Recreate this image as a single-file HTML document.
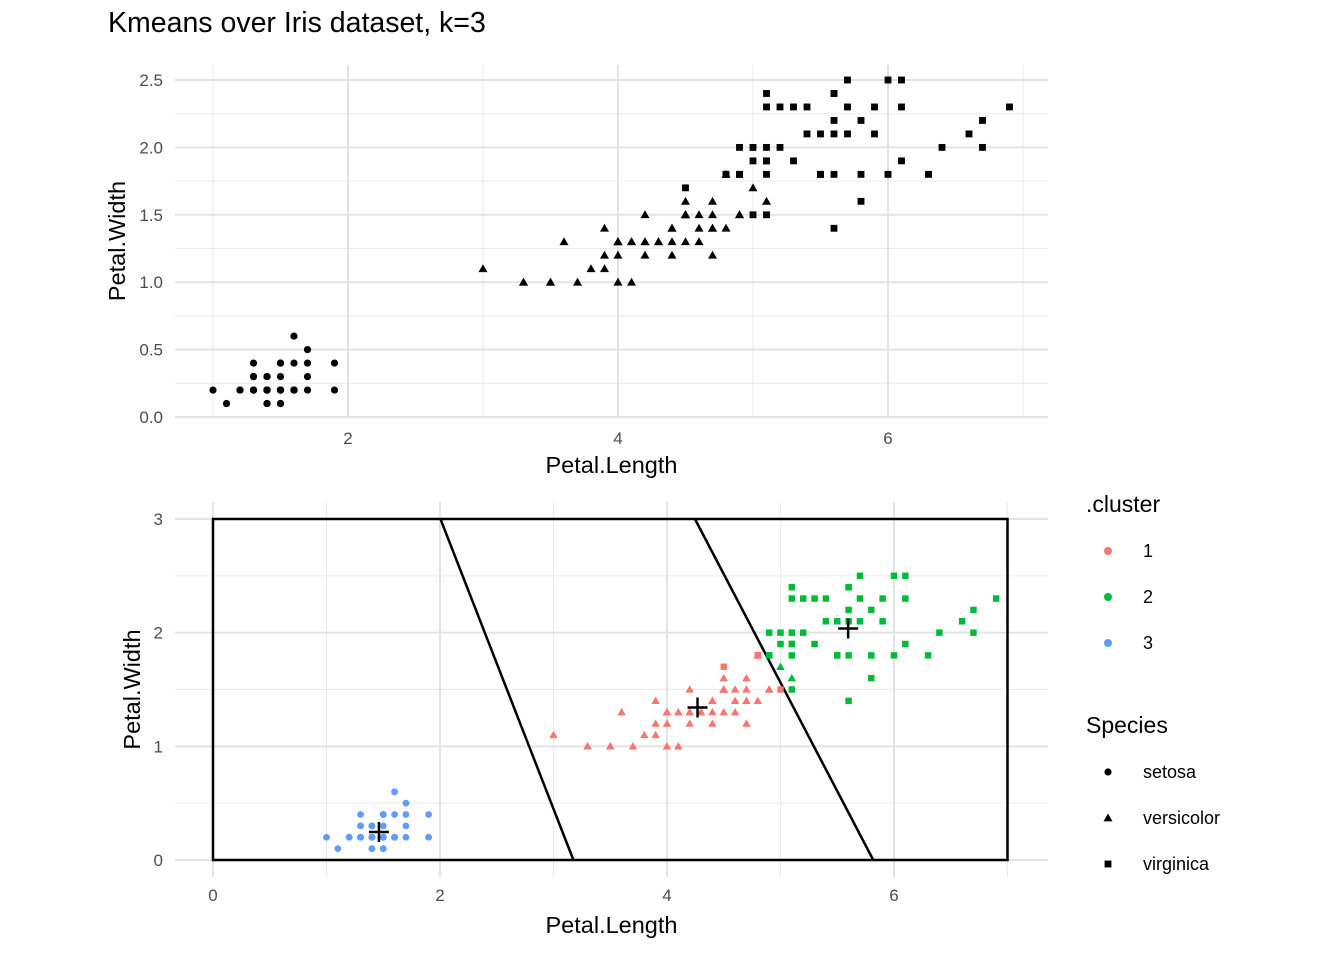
<!DOCTYPE html>
<html><head><meta charset="utf-8">
<style>
body{margin:0;background:#fff;}
svg text{font-family:"Liberation Sans",Arial,sans-serif;}
</style></head>
<body>
<svg id="chart" width="1344" height="960" viewBox="0 0 1344 960" xmlns="http://www.w3.org/2000/svg">
<rect width="1344" height="960" fill="#fff"/>
<text x="108" y="32" font-size="28.5" fill="#000">Kmeans over Iris dataset, k=3</text>
<g id="topPanel"></g>
<g id="bottomPanel"></g>
<g id="legend"></g>
</svg>
<script>
const petalLength=[1.4,1.4,1.3,1.5,1.4,1.7,1.4,1.5,1.4,1.5,1.5,1.6,1.4,1.1,1.2,1.5,1.3,1.4,1.7,1.5,1.7,1.5,1.0,1.7,1.9,1.6,1.6,1.5,1.4,1.6,1.6,1.5,1.5,1.4,1.5,1.2,1.3,1.4,1.3,1.5,1.3,1.3,1.3,1.6,1.9,1.4,1.6,1.4,1.5,1.4,
4.7,4.5,4.9,4.0,4.6,4.5,4.7,3.3,4.6,3.9,3.5,4.2,4.0,4.7,3.6,4.4,4.5,4.1,4.5,3.9,4.8,4.0,4.9,4.7,4.3,4.4,4.8,5.0,4.5,3.5,3.8,3.7,3.9,5.1,4.5,4.5,4.7,4.4,4.1,4.0,4.4,4.6,4.0,3.3,4.2,4.2,4.2,4.3,3.0,4.1,
6.0,5.1,5.9,5.6,5.8,6.6,4.5,6.3,5.8,6.1,5.1,5.3,5.5,5.0,5.1,5.3,5.5,6.7,6.9,5.0,5.7,4.9,6.7,4.9,5.7,6.0,4.8,4.9,5.6,5.8,6.1,6.4,5.6,5.1,5.6,6.1,5.6,5.5,4.8,5.4,5.6,5.1,5.1,5.9,5.7,5.2,5.0,5.2,5.4,5.1];
const petalWidth=[0.2,0.2,0.2,0.2,0.2,0.4,0.3,0.2,0.2,0.1,0.2,0.2,0.1,0.1,0.2,0.4,0.4,0.3,0.3,0.3,0.2,0.4,0.2,0.5,0.2,0.2,0.4,0.2,0.2,0.2,0.2,0.4,0.1,0.2,0.2,0.2,0.2,0.1,0.2,0.2,0.3,0.3,0.2,0.6,0.4,0.3,0.2,0.2,0.2,0.2,
1.4,1.5,1.5,1.3,1.5,1.3,1.6,1.0,1.3,1.4,1.0,1.5,1.0,1.4,1.3,1.4,1.5,1.0,1.5,1.1,1.8,1.3,1.5,1.2,1.3,1.4,1.4,1.7,1.5,1.0,1.1,1.0,1.2,1.6,1.5,1.6,1.5,1.3,1.3,1.3,1.2,1.4,1.2,1.0,1.3,1.2,1.3,1.3,1.1,1.3,
2.5,1.9,2.1,1.8,2.2,2.1,1.7,1.8,1.8,2.5,2.0,1.9,2.1,2.0,2.4,2.3,1.8,2.2,2.3,1.5,2.3,2.0,2.0,1.8,2.1,1.8,1.8,1.8,2.1,1.6,1.9,2.0,2.2,1.5,1.4,2.3,2.4,1.8,1.8,2.1,2.4,2.3,1.9,2.3,2.5,2.3,1.9,2.0,2.3,1.8];
const speciesNames=["setosa","versicolor","virginica"];
const clusterNames=["1","2","3"];
const centerX=[4.269,5.596,1.462];
const centerY=[1.342,2.037,0.246];
const colors=["#F8766D","#00BA38","#619CFF"];
const topXTicks=[2,4,6], topYTicks=[0,0.5,1,1.5,2,2.5];
const botXTicks=[0,2,4,6], botYTicks=[0,1,2,3];

const NS="http://www.w3.org/2000/svg";
function mk(parent,tag,attrs){const e=document.createElementNS(NS,tag);for(const k in attrs)e.setAttribute(k,attrs[k]);parent.appendChild(e);return e;}
function species(i){return Math.floor(i/50);}
function cluster(i){let best=0,bd=1e9;for(let k=0;k<3;k++){const d=(petalLength[i]-centerX[k])**2+(petalWidth[i]-centerY[k])**2;if(d<bd){bd=d;best=k;}}return best;}
function shape(g,s,x,y,r,fill){
  let e;
  if(s===0)e=mk(g,'circle',{cx:x,cy:y,r:r,fill:fill});
  else if(s===1){const h=r*1.25;e=mk(g,'polygon',{points:`${x},${y-h} ${x-h},${y+h*0.75} ${x+h},${y+h*0.75}`,fill:fill});}
  else e=mk(g,'rect',{x:x-r*0.95,y:y-r*0.95,width:r*1.9,height:r*1.9,fill:fill});
  return e;
}
function panel(g,px0,px1,py0,py1,sx,sy,xMinor,yMinor,xTicks,yTicks,xLab,yLab,yTitleX,tickLabFmt,xLabOff){
  xMinor.forEach(v=>{const l=mk(g,'line',{x1:sx(v),x2:sx(v),y1:py0,y2:py1,stroke:'#ebebeb','stroke-width':1});});
  yMinor.forEach(v=>{const l=mk(g,'line',{x1:px0,x2:px1,y1:sy(v),y2:sy(v),stroke:'#ebebeb','stroke-width':1});});
  xTicks.forEach(v=>{const l=mk(g,'line',{x1:sx(v),x2:sx(v),y1:py0,y2:py1,stroke:'#e3e3e3','stroke-width':2});
    const t=mk(g,'text',{x:sx(v),y:py1+xLabOff,'font-size':17,fill:'#4d4d4d','text-anchor':'middle'});t.textContent=String(v);});
  yTicks.forEach(v=>{const l=mk(g,'line',{x1:px0,x2:px1,y1:sy(v),y2:sy(v),stroke:'#e3e3e3','stroke-width':2});
    const t=mk(g,'text',{x:px0-12,y:sy(v)+6,'font-size':17,fill:'#4d4d4d','text-anchor':'end'});t.textContent=tickLabFmt(v);});
  const xt=mk(g,'text',{x:(px0+px1)/2,y:py1+56,'font-size':23.5,fill:'#000','text-anchor':'middle'});xt.textContent=xLab;
  const yc=(py0+py1)/2;
  const yt=mk(g,'text',{x:yTitleX,y:yc,'font-size':23.5,fill:'#000','text-anchor':'middle',transform:`rotate(-90 ${yTitleX} ${yc})`});yt.textContent=yLab;
}
const topG=document.getElementById('topPanel');
const tsx=v=>213+(v-1)*135, tsy=v=>417-v*134.8;
panel(topG,175,1048,65,417,tsx,tsy,[1,3,5,7],[0.25,0.75,1.25,1.75,2.25],topXTicks,topYTicks,'Petal.Length','Petal.Width',125,v=>v.toFixed(1),27);
for(let i=0;i<150;i++){
  const e=shape(topG,species(i),tsx(petalLength[i]),tsy(petalWidth[i]),3.6,'#000');
  
  
}
const botG=document.getElementById('bottomPanel');
const bsx=v=>213+v*113.5, bsy=v=>860-v*113.67;
panel(botG,175,1048,502,877,bsx,bsy,[1,3,5,7],[0.5,1.5,2.5],botXTicks,botYTicks,'Petal.Length','Petal.Width',140,v=>String(v),24);
const box=mk(botG,'rect',{x:bsx(0),y:bsy(3),width:bsx(7)-bsx(0),height:bsy(0)-bsy(3),fill:'none',stroke:'#000','stroke-width':2.5});

[[2,0],[0,1]].forEach(([a,b])=>{
  const mx=(centerX[a]+centerX[b])/2,my=(centerY[a]+centerY[b])/2,dx=centerX[b]-centerX[a],dy=centerY[b]-centerY[a];
  const xAt=y=>mx-(y-my)*dy/dx;
  const l=mk(botG,'line',{x1:bsx(xAt(3)),y1:bsy(3),x2:bsx(xAt(0)),y2:bsy(0),stroke:'#000','stroke-width':2.5});
  
});
for(let i=0;i<150;i++){
  const e=shape(botG,species(i),bsx(petalLength[i]),bsy(petalWidth[i]),3.4,colors[cluster(i)]);
  
  
}
for(let k=0;k<3;k++){
  const x=bsx(centerX[k]),y=bsy(centerY[k]);
  const p=mk(botG,'path',{d:`M${x-10},${y}H${x+10}M${x},${y-10}V${y+10}`,stroke:'#000','stroke-width':2.5});
  
}
const lg=document.getElementById('legend');
let t=mk(lg,'text',{x:1086,y:512,'font-size':23,fill:'#000'});t.textContent='.cluster';

clusterNames.forEach((n,k)=>{const y=551+k*46;
  const c=mk(lg,'circle',{cx:1108,cy:y,r:4,fill:colors[k]});
  const tt=mk(lg,'text',{x:1143,y:y+6,'font-size':18,fill:'#000'});tt.textContent=n;});
t=mk(lg,'text',{x:1086,y:733,'font-size':23,fill:'#000'});t.textContent='Species';

speciesNames.forEach((n,k)=>{const y=772+k*46;
  const c=shape(lg,k,1108,y,3.6,'#000');
  const tt=mk(lg,'text',{x:1143,y:y+6,'font-size':18,fill:'#000'});tt.textContent=n;});
</script>
</body></html>
